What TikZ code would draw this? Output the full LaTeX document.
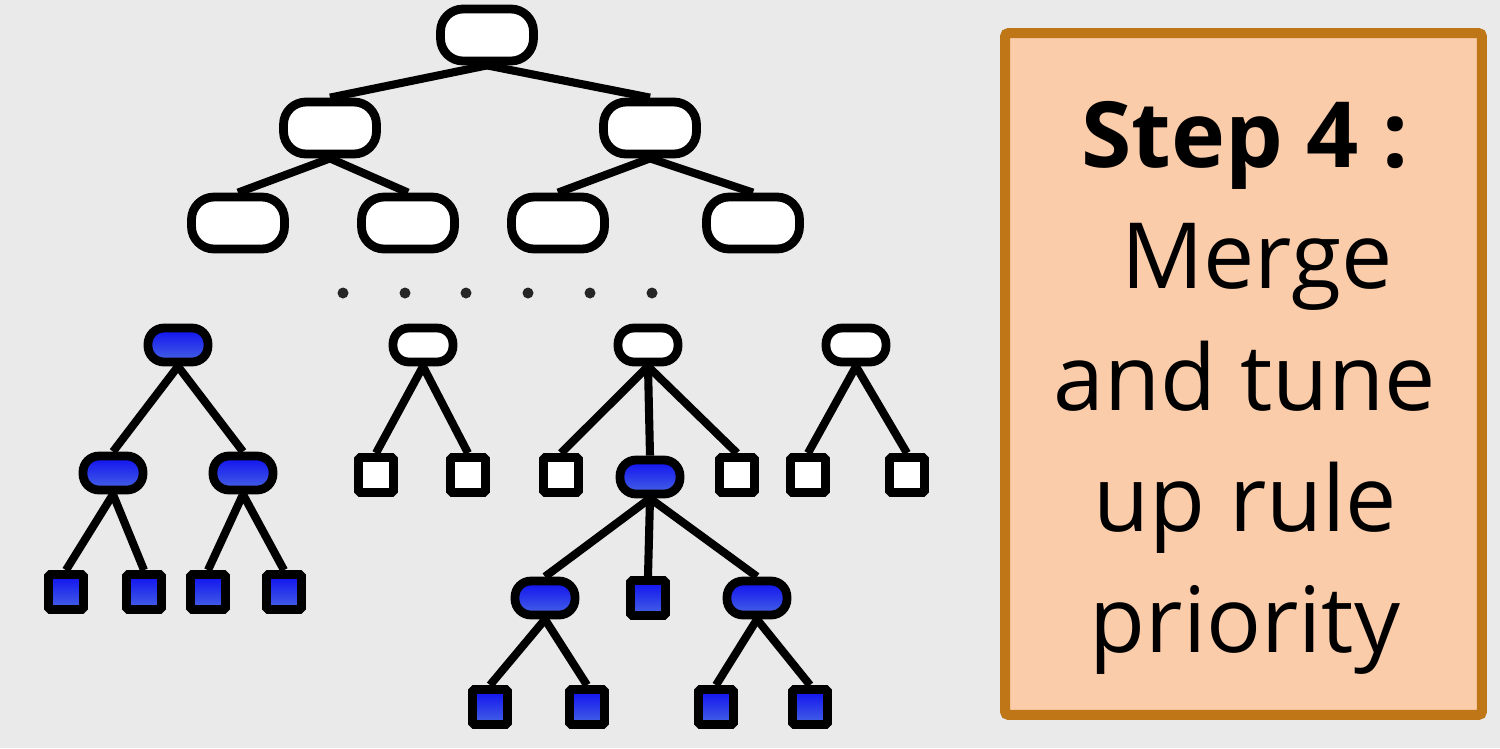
\documentclass[tikz,border=0pt]{standalone}
\usepackage{fontspec}
\setmainfont{Open Sans}
\usetikzlibrary{positioning, backgrounds}

\begin{document}
\begin{tikzpicture}[
    x=0.02cm, y=-0.02cm,
    bignode/.style = {rectangle, draw=black, fill=white, line width=5pt, rounded corners=0.45cm, minimum width=1.86cm, minimum height=1.04cm, inner sep=0pt},
    smallnode/.style = {rectangle, draw=black, fill=white, line width=5pt, rounded corners=0.32cm, minimum width=1.2cm, minimum height=0.68cm, inner sep=0pt},
    leaf/.style = {rectangle, draw=black, fill=white, line width=5pt, rounded corners=1pt, minimum size=0.7cm, inner sep=0pt},
    picked/.style = {top color=pickblue, bottom color=skyblue},
    dot/.style = {circle, fill=black!85, minimum size=0.22cm, inner sep=0pt},
    stepbox/.style = {rectangle, draw=amber, fill=peach, line width=5.7pt, rounded corners=2pt, minimum width=9.54cm, minimum height=13.64cm},
    edge/.style = {draw, line width=4.6pt, color=black}
]
    % Colors definition
    \definecolor{canvas}{RGB}{234, 234, 234}
    \definecolor{peach}{RGB}{251, 204, 170}
    \definecolor{amber}{RGB}{191, 118, 23}
    \definecolor{pickblue}{RGB}{15, 15, 240}
    \definecolor{skyblue}{RGB}{70, 100, 228}

    \begin{scope}[on background layer]
        \fill[canvas] (0,0) rectangle (1500,748);
    \end{scope}

    % Upper tree
    \node (root) [bignode] at (487,35) {};
    \node (l) [bignode] at (330,128) {};
    \node (r) [bignode] at (650,128) {};
    \node (ll) [bignode] at (238,223) {};
    \node (lr) [bignode] at (408,223) {};
    \node (rl) [bignode] at (558,223) {};
    \node (rr) [bignode] at (753,223) {};

    % Dots
    \foreach \i/\x in {1/343, 2/405, 3/466, 4/528, 5/590, 6/652}
        \node (dot\i) [dot] at (\x,293) {};

    % Blue subtree (left)
    \node (a) [smallnode, picked] at (178,345) {};
    \node (a1) [smallnode, picked] at (113,473) {};
    \node (a2) [smallnode, picked] at (243,473) {};
    \node (a11) [leaf, picked] at (66,592) {};
    \node (a12) [leaf, picked] at (144,592) {};
    \node (a21) [leaf, picked] at (208,592) {};
    \node (a22) [leaf, picked] at (284,592) {};

    % Small subtrees
    \node (b) [smallnode] at (423,345) {};
    \node (b1) [leaf] at (376,475) {};
    \node (b2) [leaf] at (468,475) {};

    \node (c) [smallnode] at (648,345) {};
    \node (c1) [leaf] at (561,475) {};
    \node (c2) [smallnode, picked] at (650,477) {};
    \node (c3) [leaf] at (737,475) {};

    \node (c21) [smallnode, picked] at (545,598) {};
    \node (c22) [leaf, picked] at (648,598) {};
    \node (c23) [smallnode, picked] at (757,598) {};
    \node (c211) [leaf, picked] at (490,707) {};
    \node (c212) [leaf, picked] at (587,707) {};
    \node (c231) [leaf, picked] at (716,707) {};
    \node (c232) [leaf, picked] at (810,707) {};

    \node (d) [smallnode] at (856,345) {};
    \node (d1) [leaf] at (808,475) {};
    \node (d2) [leaf] at (907,475) {};

    % Step panel
    \node (panel) [stepbox] at (1243.5,374) {};
    \node (steptext) [align=center, font=\fontsize{52}{69}\selectfont] at (1245,388)
        {\textbf{Step 4 :}\\\ Merge\\and tune\\up rule\\priority};

    % Connections
    \begin{scope}[on background layer]
        \foreach \p/\c in {root/l, root/r, l/ll, l/lr, r/rl, r/rr,
                           a/a1, a/a2, a1/a11, a1/a12, a2/a21, a2/a22,
                           b/b1, b/b2, c/c1, c/c2, c/c3,
                           c2/c21, c2/c22, c2/c23,
                           c21/c211, c21/c212, c23/c231, c23/c232,
                           d/d1, d/d2}
            \path [edge] (\p.south) -- (\c.north);
    \end{scope}

\end{tikzpicture}
\end{document}
